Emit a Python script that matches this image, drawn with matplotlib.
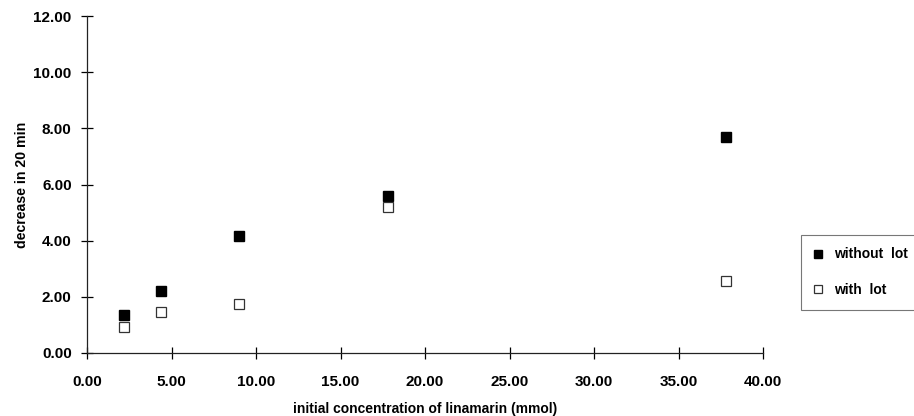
import matplotlib
matplotlib.use("Agg")
import matplotlib.pyplot as plt
from matplotlib.ticker import FormatStrFormatter, MultipleLocator

conc = [2.2, 4.4, 9.0, 17.8, 37.8]
without_lot = [1.35, 2.2, 4.15, 5.6, 7.7]
with_lot = [0.92, 1.45, 1.75, 5.2, 2.55]

plt.rcParams['font.family'] = ['Liberation Sans', 'DejaVu Sans']
plt.rcParams['font.weight'] = 'bold'

fig = plt.figure(figsize=(9.14, 4.16), dpi=100)
ax = fig.add_axes([87/914, 63/416, (763-87)/914, (353-16)/416])

ax.plot(conc, without_lot, linestyle='none', marker='s', markersize=6.5,
        markerfacecolor='black', markeredgecolor='black', label='without  lot')
ax.plot(conc, with_lot, linestyle='none', marker='s', markersize=6.5,
        markerfacecolor='white', markeredgecolor='#333333', markeredgewidth=0.9,
        label='with  lot')

ax.set_xlim(0, 40)
ax.set_ylim(0, 12)
ax.xaxis.set_major_locator(MultipleLocator(5))
ax.yaxis.set_major_locator(MultipleLocator(2))
ax.xaxis.set_major_formatter(FormatStrFormatter('%.2f'))
ax.yaxis.set_major_formatter(FormatStrFormatter('%.2f'))
for s in ['top', 'right']:
    ax.spines[s].set_visible(False)
for s in ['left', 'bottom']:
    ax.spines[s].set_linewidth(0.9)
    ax.spines[s].set_color('#222222')
ax.tick_params(direction='inout', length=8, width=0.9, labelsize=11)
ax.tick_params(axis='x', pad=12)
ax.tick_params(axis='y', pad=7)
for lab in ax.get_xticklabels() + ax.get_yticklabels():
    lab.set_fontweight('bold')

ax.set_xlabel('initial concentration of linamarin (mmol)', fontsize=10,
              fontweight='bold', labelpad=9)
ax.set_ylabel('decrease in 20 min', fontsize=10.2, fontweight='bold', labelpad=3)

leg = fig.legend(loc='upper left', bbox_to_anchor=(801/914, (416-235)/416, 140/914, 0.0),
                 mode='expand', borderaxespad=0,
                 frameon=True, fancybox=False, fontsize=10, handlelength=0.6,
                 handletextpad=0.9, borderpad=0.9, labelspacing=1.55,
                 markerscale=0.85)
leg.get_frame().set_edgecolor('#555555')
leg.get_frame().set_linewidth(0.8)
for t in leg.get_texts():
    t.set_fontweight('bold')

fig.savefig('out.png', dpi=100)
